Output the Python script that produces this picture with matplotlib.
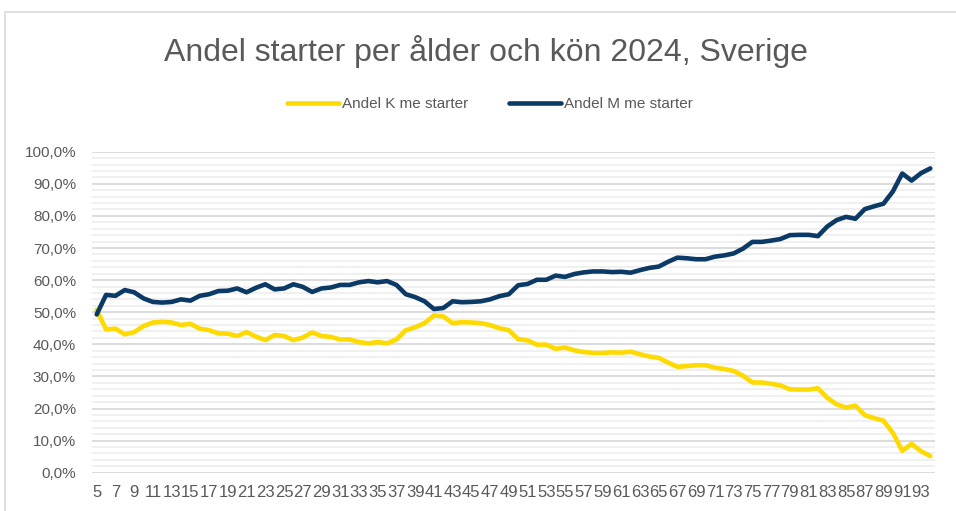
import numpy as np
import matplotlib.pyplot as plt
from matplotlib.patches import Rectangle
from matplotlib.ticker import MultipleLocator, FuncFormatter

plt.rcParams['font.family'] = ['Liberation Sans', 'DejaVu Sans']

# ---------------------------------------------------------
# Data: share of starts per age, 2024
# ---------------------------------------------------------

ages = list(range(5, 95))

andel_k = [
    50.7, 44.6, 44.9, 43.1, 43.8, 45.7, 46.8, 47.0, 46.8, 46.0,
    46.4, 44.9, 44.4, 43.4, 43.3, 42.6, 43.8, 42.4, 41.3, 42.9,
    42.6, 41.3, 42.1, 43.7, 42.6, 42.3, 41.5, 41.5, 40.7, 40.3,
    40.7, 40.3, 41.5, 44.4, 45.3, 46.6, 49.0, 48.7, 46.6, 46.9,
    46.8, 46.6, 46.0, 45.0, 44.4, 41.6, 41.2, 39.9, 39.9, 38.6,
    39.0, 38.1, 37.6, 37.3, 37.3, 37.5, 37.4, 37.7, 36.9, 36.2,
    35.8, 34.3, 33.0, 33.2, 33.5, 33.5, 32.7, 32.3, 31.7, 30.2,
    28.1, 28.1, 27.7, 27.2, 26.0, 25.9, 25.9, 26.3, 23.3, 21.3,
    20.3, 20.9, 17.9, 17.0, 16.2, 12.4, 6.8, 9.0, 6.7, 5.2,
]

andel_m = [
    49.3, 55.4, 55.1, 56.9, 56.2, 54.3, 53.2, 53.0, 53.2, 54.0,
    53.6, 55.1, 55.6, 56.6, 56.7, 57.4, 56.2, 57.6, 58.7, 57.1,
    57.4, 58.7, 57.9, 56.3, 57.4, 57.7, 58.5, 58.5, 59.3, 59.7,
    59.3, 59.7, 58.5, 55.6, 54.7, 53.4, 51.0, 51.3, 53.4, 53.1,
    53.2, 53.4, 54.0, 55.0, 55.6, 58.4, 58.8, 60.1, 60.1, 61.4,
    61.0, 61.9, 62.4, 62.7, 62.7, 62.5, 62.6, 62.3, 63.1, 63.8,
    64.2, 65.7, 67.0, 66.8, 66.5, 66.5, 67.3, 67.7, 68.3, 69.8,
    71.9, 71.9, 72.3, 72.8, 74.0, 74.1, 74.1, 73.7, 76.7, 78.7,
    79.7, 79.1, 82.1, 83.0, 83.8, 87.6, 93.2, 91.0, 93.3, 94.8,
]

labels = ["Andel K me starter", "Andel M me starter"]
title = "Andel starter per ålder och kön 2024, Sverige"

# ---------------------------------------------------------
# Plot
# ---------------------------------------------------------

text_col = "#595959"
yellow = "#FFDA00"
navy = "#0B3A66"

fig = plt.figure(figsize=(9.56, 5.11), dpi=100)

# chart frame (runs off right/bottom edge as in the screenshot)
fig.patches.append(Rectangle((5 / 956, -0.1), 1.2, 1 - 12 / 511 + 0.1,
                             transform=fig.transFigure, fill=False,
                             edgecolor="#d9d9d9", linewidth=1.2))

ax = fig.add_axes([92 / 956, 1 - 472.7 / 511, (935 - 92) / 956, (472.7 - 151.7) / 511])

x = np.arange(len(ages))

ax.plot(x, andel_k, color=yellow, lw=3.3, solid_capstyle="round", label=labels[0], zorder=3)
ax.plot(x, andel_m, color=navy, lw=3.3, solid_capstyle="round", label=labels[1], zorder=3)

ax.set_xlim(-0.5, len(ages) - 0.5)
ax.set_ylim(0, 100)

ax.yaxis.set_major_locator(MultipleLocator(10))
ax.yaxis.set_minor_locator(MultipleLocator(2))
ax.yaxis.set_major_formatter(FuncFormatter(lambda v, p: f"{v:.1f}%".replace(".", ",")))

ax.grid(axis="y", which="major", color="#d9d9d9", lw=1.3, zorder=1)
ax.grid(axis="y", which="minor", color="#efefef", lw=1.3, zorder=0)
ax.set_axisbelow(True)

ax.set_xticks(x[::2])
ax.set_xticklabels([str(a) for a in ages[::2]])

ax.tick_params(axis="both", which="both", length=0, colors=text_col)
ax.tick_params(axis="y", pad=11.5, labelsize=11)
ax.tick_params(axis="x", pad=9, labelsize=12)

for s in ax.spines.values():
    s.set_visible(False)

fig.text(486 / 956, 1 - 52 / 511, title, ha="center", va="center",
         fontsize=23, color=text_col)

fig.legend(loc="center", bbox_to_anchor=(490 / 956, 1 - 104 / 511), ncol=2,
           frameon=False, fontsize=11, labelcolor=text_col,
           handlelength=3.4, handletextpad=0.2, columnspacing=2.7)

fig.savefig("out.png", dpi=100)
